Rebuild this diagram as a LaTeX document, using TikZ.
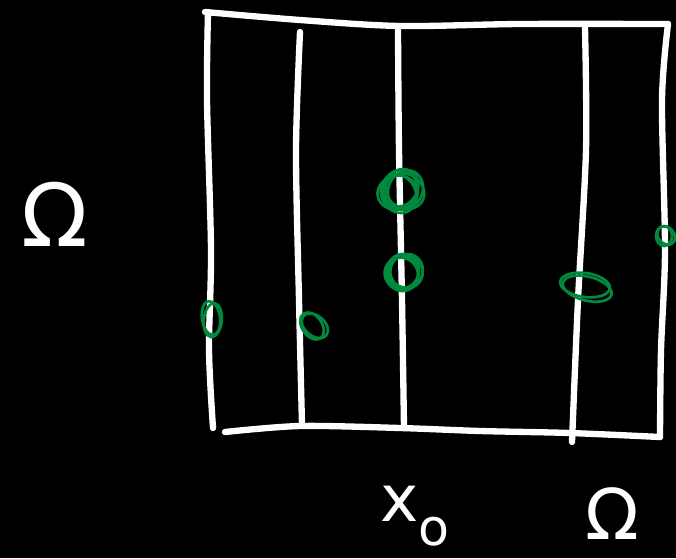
\documentclass[tikz,border=0pt]{standalone}
\usepackage{fontspec}
\setsansfont{DejaVu Sans}
\usetikzlibrary{calc,positioning}
\definecolor{boardBlack}{RGB}{0,0,0}
\definecolor{chalkWhite}{RGB}{255,255,255}
\definecolor{markGreen}{RGB}{0,138,62}

\tikzset{
  chalk/.style={draw=chalkWhite,line width=4.5pt,line cap=round,line join=round},
  scribble/.style={draw=markGreen,line width=1.9pt},
  handlabel/.style={text=chalkWhite,inner sep=0pt,font=\sffamily}
}

\begin{document}
\begin{tikzpicture}[x=0.025cm,y=-0.025cm]
\path[use as bounding box,fill=boardBlack] (0,0) rectangle (676,558);

% outer box
\draw[chalk] plot[smooth] coordinates {(208,12) (207,100) (211,250) (209,350) (213,428)};
\draw[chalk] plot[smooth] coordinates {(205,12) (300,20) (400,26) (520,24) (668,24)};
\draw[chalk] plot[smooth] coordinates {(668,24) (662,100) (665,250) (661,350) (660,437)};
\draw[chalk] plot[smooth] coordinates {(660,437) (570,433) (480,431) (400,428) (300,426) (225,432)};

% vertical lines
\draw[chalk] plot[smooth] coordinates {(300,32) (296,150) (299,300) (302,425)};
\draw[chalk] plot[smooth] coordinates {(398,30) (399,150) (402,300) (404,428)};
\draw[chalk] plot[smooth] coordinates {(585,28) (586,150) (578,300) (572,442)};

% green marks
\foreach \dx/\dy/\ang in {0/0/0,-4/2/30,4/-2/-25,1/4/60,-2/-4/100,2/1/140}
  \draw[scribble,rotate around={\ang:(401,190)}] ($(401,190)+(\dx,\dy)$) ellipse (17 and 20);
\foreach \dx/\dy/\ang in {0/0/0,-3/2/35,3/-2/-30,0/3/70,-1/-2/110}
  \draw[scribble,rotate around={\ang:(403,271)}] ($(403,271)+(\dx,\dy)$) ellipse (16 and 17);
\foreach \dx/\dy/\ang in {0/0/-8,3/3/-14}
  \draw[scribble,rotate around={\ang:(585,285)}] ($(585,285)+(\dx,\dy)$) ellipse (25 and 12);
\foreach \dx/\dy/\ang in {0/0/8,2/2/-6}
  \draw[scribble,rotate around={\ang:(211,318)}] ($(211,318)+(\dx,\dy)$) ellipse (9 and 17);
\foreach \dx/\dy/\ang in {0/0/35,2/2/50}
  \draw[scribble,rotate around={\ang:(312,326)}] ($(312,326)+(\dx,\dy)$) ellipse (10 and 15);
\foreach \dx/\dy/\ang in {0/0/0,2/1/40}
  \draw[scribble,rotate around={\ang:(664,236)}] ($(664,236)+(\dx,\dy)$) ellipse (8 and 10);

% labels
\node[handlabel,font=\sffamily\fontsize{62}{62}\selectfont] (omegaLeft) at (55,214) {Ω};
\node[handlabel,font=\sffamily\fontsize{46}{46}\selectfont] (pointX) at (400,504) {x};
\node[handlabel,font=\sffamily\fontsize{36}{36}\selectfont,right=-1pt of pointX,yshift=-0.7cm] (pointSub) {o};
\node[handlabel,font=\sffamily\fontsize{50}{50}\selectfont] (omegaRight) at (612,514) {Ω};
\end{tikzpicture}
\end{document}
